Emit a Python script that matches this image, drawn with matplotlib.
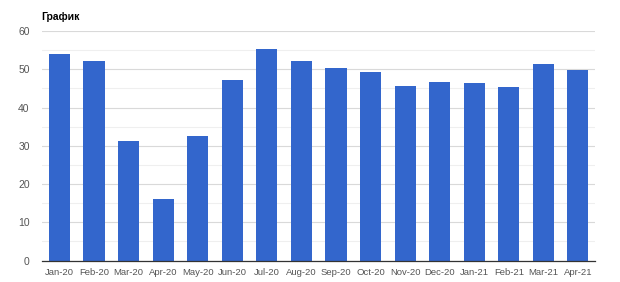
import matplotlib.pyplot as plt
from matplotlib.ticker import MultipleLocator

plt.rcParams['font.family'] = ['Liberation Sans', 'DejaVu Sans']

months = ['Jan-20', 'Feb-20', 'Mar-20', 'Apr-20', 'May-20', 'Jun-20', 'Jul-20', 'Aug-20',
          'Sep-20', 'Oct-20', 'Nov-20', 'Dec-20', 'Jan-21', 'Feb-21', 'Mar-21', 'Apr-21']
values = [53.9, 52.2, 31.3, 16.0, 32.5, 47.1, 55.3, 52.2,
          50.3, 49.3, 45.7, 46.8, 46.5, 45.4, 51.3, 49.8]

fig = plt.figure(figsize=(6.2, 2.82), dpi=100)
ax = fig.add_axes([0.068, 0.076, 0.892, 0.814])

ax.bar(range(len(months)), values, width=0.61, color='#3366cc', zorder=3)

ax.set_xlim(-0.5, len(months) - 0.5)
ax.set_ylim(0, 60)
ax.yaxis.set_major_locator(MultipleLocator(10))
ax.yaxis.set_minor_locator(MultipleLocator(5))
ax.grid(axis='y', which='major', color='#d9d9d9', lw=0.8, zorder=0)
ax.grid(axis='y', which='minor', color='#efefef', lw=0.8, zorder=0)

ax.set_xticks(range(len(months)))
ax.set_xticklabels(months)
ax.tick_params(axis='both', which='both', length=0, colors='#555555')
ax.tick_params(axis='x', pad=5, labelsize=6.8)
ax.tick_params(axis='y', pad=9, labelsize=7.5)

for s in ['top', 'right', 'left']:
    ax.spines[s].set_visible(False)
ax.spines['bottom'].set_color('#333333')
ax.spines['bottom'].set_linewidth(0.9)
ax.spines['bottom'].set_zorder(4)

fig.text(0.066, 0.94, 'График', fontsize=7.5, fontweight='bold', color='#000000', va='center')

fig.savefig('out.png', dpi=100, facecolor='white')
